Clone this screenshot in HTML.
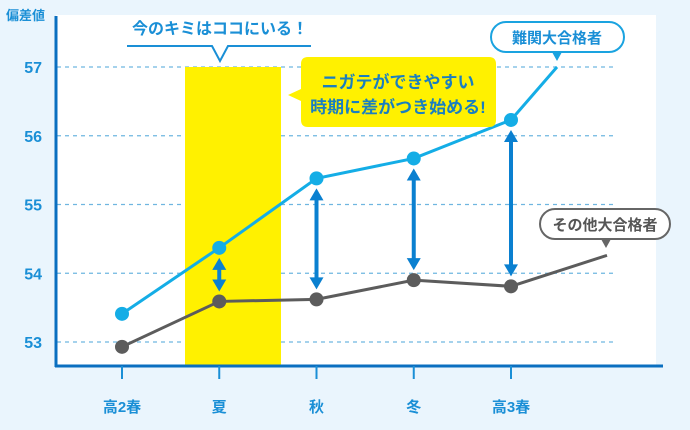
<!DOCTYPE html>
<html><head><meta charset="utf-8"><style>
body{margin:0;width:690px;height:425px;background:#eaf5fd;overflow:hidden}
svg text{font-family:"Liberation Sans","Noto Sans CJK JP",sans-serif;font-weight:bold}
</style></head><body>
<svg id="chart" width="690" height="425" viewBox="0 0 690 425">
<rect x="56" y="15" width="600" height="351" fill="#fff"/>
<g id="grid"></g>
<rect x="185" y="67" width="96" height="299" fill="#fff100"/>
<g id="arrows"></g>
<g id="series"></g>
<line x1="56" y1="16" x2="56" y2="367" stroke="#0a6fc0" stroke-width="3"/>
<line x1="55" y1="366" x2="663" y2="366" stroke="#0a6fc0" stroke-width="3"/>
<text x="6" y="20" font-size="13" fill="#1a8fd6">偏差値</text>
<g id="ticks"></g>
<text x="220" y="34" font-size="16" fill="#1a8fd6" text-anchor="middle">今のキミはココにいる！</text>
<path d="M127 46 H212 L220 61 L228 46 H311" fill="none" stroke="#1a8fd6" stroke-width="2"/>
<path d="M308 57 H489 Q496 57 496 64 V120 Q496 127 489 127 H308 Q301 127 301 120 V101 L288 95 L301 89 V64 Q301 57 308 57 Z" fill="#fff100"/>
<text x="398" y="88" font-size="17" fill="#1a7fc0" text-anchor="middle">ニガテができやすい</text>
<text x="398" y="113" font-size="17" fill="#1a7fc0" text-anchor="middle">時期に差がつき始める!</text>
<rect x="491" y="22" width="133" height="30" rx="15" fill="#fff" stroke="#1aa3e0" stroke-width="2"/>
<path d="M552 52 L562 52 L557 61 Z" fill="#1aa3e0"/>
<text x="557" y="43" font-size="15" fill="#1a8fd6" text-anchor="middle">難関大合格者</text>
<rect x="540" y="209" width="130" height="30" rx="15" fill="#fff" stroke="#666" stroke-width="2"/>
<path d="M601 239 L611 239 L606 248 Z" fill="#666"/>
<text x="605" y="230" font-size="15" fill="#555" text-anchor="middle">その他大合格者</text>
</svg>
<script>
const categories=["高2春","夏","秋","冬","高3春"];
const topValues=[53.41,54.37,55.38,55.67,56.23];
const topEnd=57.0;
const otherValues=[52.93,53.59,53.62,53.90,53.81];
const otherEnd=54.26;
const yTicks=[53,54,55,56,57];
const NS="http://www.w3.org/2000/svg";
const xPos=i=>122+i*97.25;
const yPos=v=>342-(v-53)*68.75;
function mk(tag,attrs,parent){const e=document.createElementNS(NS,tag);for(const k in attrs)e.setAttribute(k,attrs[k]);document.getElementById(parent).appendChild(e);return e;}
yTicks.forEach(t=>{
 const l=mk("line",{x1:57,x2:615,y1:yPos(t),y2:yPos(t),stroke:"#6fb6e0","stroke-width":1.2,"stroke-dasharray":"4 4"},"grid");
 
 
 const tx=mk("text",{x:42,y:yPos(t)+6,"font-size":16,fill:"#1a8fd6","text-anchor":"end"},"ticks");
 tx.textContent=t;
 
 
});
categories.forEach((c,i)=>{
 const l=mk("line",{x1:xPos(i),x2:xPos(i),y1:366,y2:379,stroke:"#1a8fd6","stroke-width":2},"ticks");
 
 
 const tx=mk("text",{x:xPos(i),y:412,"font-size":15,fill:"#1a8fd6","text-anchor":"middle"},"ticks");
 tx.textContent=c;
 
 
});
function series(vals,end,color,name){
 const pts=vals.map((v,i)=>[xPos(i),yPos(v)]);pts.push([xPos(vals.length-1)+46+(name==='other'?50:0),yPos(end)]);
 const p=mk("polyline",{points:pts.map(p=>p.join(",")).join(" "),fill:"none",stroke:color,"stroke-width":3},"series");
 
 
 vals.forEach((v,i)=>{
  const c=mk("circle",{cx:xPos(i),cy:yPos(v),r:7,fill:color},"series");
  
  
 });
}
series(topValues,topEnd,"#14ade6","top");
series(otherValues,otherEnd,"#5c5c5c","other");
for(let i=1;i<categories.length;i++){
 const x=xPos(i),y1=yPos(topValues[i])+10,y2=yPos(otherValues[i])-10;
 const a=mk("path",{d:`M${x} ${y1} L${x+7} ${y1+12} L${x+2} ${y1+12} L${x+2} ${y2-12} L${x+7} ${y2-12} L${x} ${y2} L${x-7} ${y2-12} L${x-2} ${y2-12} L${x-2} ${y1+12} L${x-7} ${y1+12} Z`,fill:"#0a80d0"},"arrows");
 
 
}
</script>
</body></html>
